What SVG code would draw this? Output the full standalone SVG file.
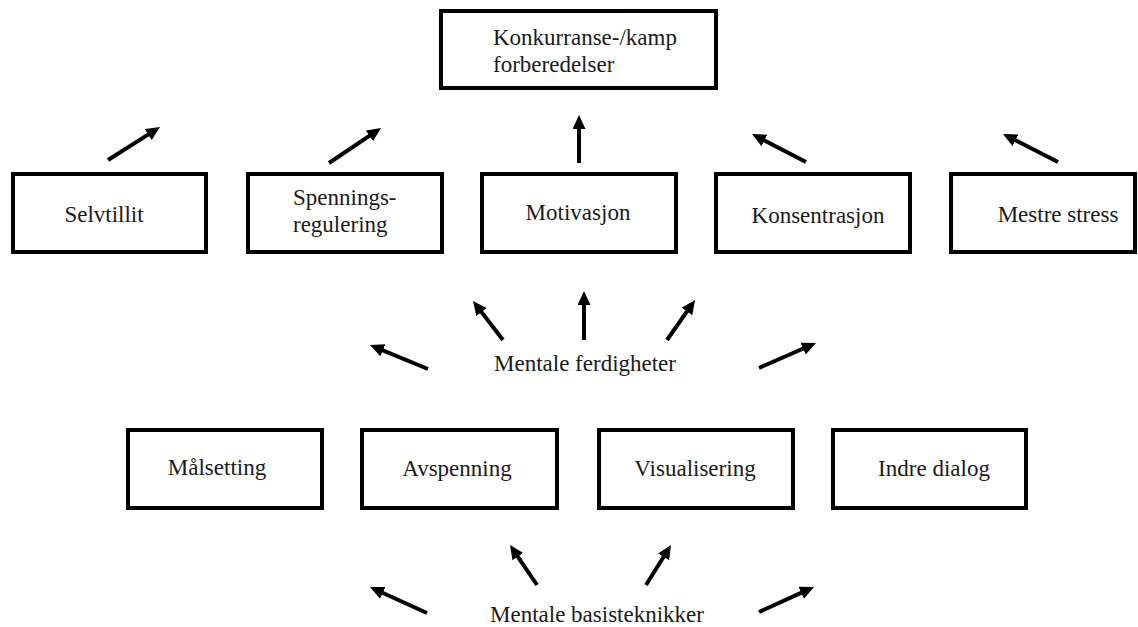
<svg xmlns="http://www.w3.org/2000/svg" width="1138" height="627" viewBox="0 0 1138 627">
<style>
.box{fill:#fff;stroke:#000;stroke-width:4}
.t{font-family:"Liberation Serif","Times New Roman",serif;font-size:23px;fill:#1a1a1a}
.m{text-anchor:middle}
.a{stroke:#000;stroke-width:4;fill:none;marker-end:url(#ah)}
</style>
<defs>
<marker id="ah" markerUnits="userSpaceOnUse" markerWidth="16" markerHeight="14" refX="4" refY="6.5" orient="auto">
<path d="M0,0 L14,6.5 L0,13 z" fill="#000"/>
</marker>
</defs>
<rect width="1138" height="627" fill="#fff"/>
<g id="konkurranse"><rect class="box" x="441" y="11" width="275" height="77"/><text class="t" x="493" y="45">Konkurranse-/kamp</text><text class="t" x="493" y="72">forberedelser</text></g>
<g id="selvtillit"><rect class="box" x="13" y="174" width="193" height="78"/><text class="t m" x="104" y="222">Selvtillit</text></g>
<g id="spenningsregulering"><rect class="box" x="248" y="174" width="194" height="78"/><text class="t" x="293" y="205">Spennings-</text><text class="t" x="293" y="232">regulering</text></g>
<g id="motivasjon"><rect class="box" x="482" y="174" width="194" height="78"/><text class="t m" x="578" y="220">Motivasjon</text></g>
<g id="konsentrasjon"><rect class="box" x="716" y="174" width="194" height="78"/><text class="t m" x="818" y="223">Konsentrasjon</text></g>
<g id="mestre"><rect class="box" x="951" y="174" width="184" height="78"/><text class="t m" x="1058" y="222">Mestre stress</text></g>
<g id="ferdigheter"><text class="t m" x="585" y="371">Mentale ferdigheter</text></g>
<g id="malsetting"><rect class="box" x="128" y="430" width="194" height="78"/><text class="t m" x="217" y="475">Målsetting</text></g>
<g id="avspenning"><rect class="box" x="362" y="430" width="195" height="78"/><text class="t m" x="457" y="476">Avspenning</text></g>
<g id="visualisering"><rect class="box" x="599" y="430" width="194" height="78"/><text class="t m" x="695" y="476">Visualisering</text></g>
<g id="indre"><rect class="box" x="833" y="430" width="193" height="78"/><text class="t m" x="934" y="476">Indre dialog</text></g>
<g id="basis"><text class="t m" x="597" y="622">Mentale basisteknikker</text></g>
<g id="connectors">
<line class="a" x1="108" y1="160" x2="151.6" y2="132.4"/>
<line class="a" x1="329" y1="163" x2="372.7" y2="133.6"/>
<line class="a" x1="579" y1="163" x2="579" y2="125"/>
<line class="a" x1="806" y1="162" x2="760.9" y2="138.6"/>
<line class="a" x1="1058" y1="162" x2="1011.9" y2="138.5"/>
<line class="a" x1="428" y1="369" x2="379.2" y2="348.8"/>
<line class="a" x1="503" y1="340" x2="479.1" y2="308.9"/>
<line class="a" x1="584" y1="340" x2="584" y2="301"/>
<line class="a" x1="667" y1="340" x2="689.3" y2="308.2"/>
<line class="a" x1="759" y1="368" x2="806.8" y2="347"/>
<line class="a" x1="427" y1="613" x2="379.1" y2="591.2"/>
<line class="a" x1="537" y1="585" x2="515.6" y2="553.3"/>
<line class="a" x1="646" y1="585" x2="665.7" y2="553.5"/>
<line class="a" x1="759" y1="612" x2="804.9" y2="591.1"/>
</g>
</svg>
